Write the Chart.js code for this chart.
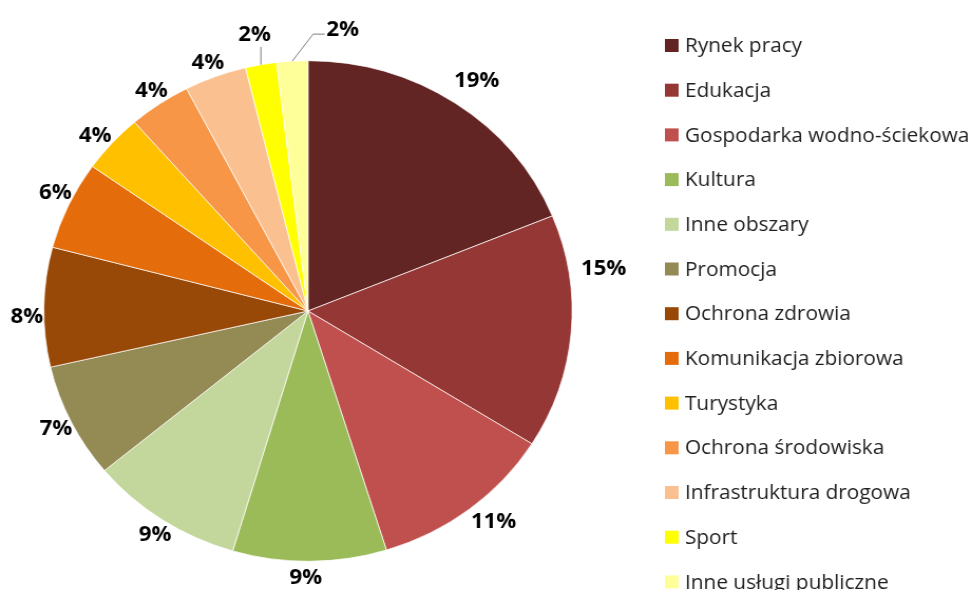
<!DOCTYPE html>
<html>
<head>
<meta charset="utf-8">
<script src="https://cdn.jsdelivr.net/npm/chart.js@4/dist/chart.umd.min.js"></script>
<style>
  body { margin: 0; background: #fff; }
  /* oryginał jest lekko rozciągnięty w poziomie */
  #wrap { width: 920px; height: 590px; transform: scaleX(1.0554); transform-origin: 0 0; }
</style>
</head>
<body>
<div id="wrap"><canvas id="pieChart" width="920" height="590"></canvas></div>
<script>
// Dane
const kategorie = [
    "Rynek pracy", "Edukacja", "Gospodarka wodno-ściekowa", "Kultura", "Inne obszary",
    "Promocja", "Ochrona zdrowia", "Komunikacja zbiorowa", "Turystyka",
    "Ochrona środowiska", "Infrastruktura drogowa", "Sport", "Inne usługi publiczne"
];
const udzialy = [18.8, 15.1, 11.3, 9.4, 9.4, 7.4, 7.7, 5.7, 3.8, 3.8, 3.8, 1.9, 1.9];
const kolory = [
    "#632523", "#953735", "#C0504D", "#9BBB59", "#C3D69B", "#948A54", "#984807",
    "#E46C0A", "#FFC000", "#F79646", "#FAC090", "#FFFF00", "#FFFF99"
];

// przesunięcie etykiet: [kąt w stopniach, odległość od krawędzi]
const przesuniecia = [
    [1.0, 29.5], [-13.4, 33], [-2.2, 24.3], [0.8, 16.5], [-0.6, 16.3], [0, 16.1],
    [-2.3, 16.2], [1.2, 16.5], [-1.1, 16.9], [0.2, 15], [-0.4, 15], [-0.1, 30.5], [10.1, 32.5]
];

// Etykiety procentowe z liniami odniesienia
const etykietyPlugin = {
    id: 'etykiety',
    afterDatasetsDraw(chart) {
        const ctx = chart.ctx;
        const meta = chart.getDatasetMeta(0);
        ctx.save();
        ctx.font = 'bold 21px "Open Sans"';
        ctx.fillStyle = '#000';
        ctx.textAlign = 'center';
        ctx.textBaseline = 'middle';
        meta.data.forEach((arc, i) => {
            const p = arc.getProps(['x', 'y', 'startAngle', 'endAngle', 'outerRadius'], true);
            const srodek = (p.startAngle + p.endAngle) / 2;
            const kat = srodek + przesuniecia[i][0] * Math.PI / 180;
            const d = p.outerRadius + przesuniecia[i][1];
            const lx = p.x + Math.cos(kat) * d;
            const ly = p.y + Math.sin(kat) * d;
            const ax = p.x + Math.cos(srodek) * p.outerRadius;
            const ay = p.y + Math.sin(srodek) * p.outerRadius;

            ctx.strokeStyle = '#7f7f7f';
            ctx.lineWidth = 1;
            if (i === 11) {
                ctx.beginPath();
                ctx.moveTo(ax, ay);
                ctx.lineTo(ax, ly + 12);
                ctx.stroke();
            } else if (i === 12) {
                ctx.beginPath();
                ctx.moveTo(ax, ay);
                ctx.lineTo(lx - 28, ly + 4);
                ctx.lineTo(lx - 17, ly + 4);
                ctx.stroke();
            }
            ctx.fillText(Math.round(udzialy[i]) + '%', lx, ly);
        });
        ctx.restore();
    }
};

// Legenda po prawej stronie
const legendaPlugin = {
    id: 'legenda',
    afterDraw(chart) {
        const ctx = chart.ctx;
        ctx.save();
        ctx.font = '19.7px "Open Sans"';
        ctx.textAlign = 'left';
        ctx.textBaseline = 'middle';
        kategorie.forEach((k, i) => {
            const cy = 45.5 + i * 44.7;
            ctx.fillStyle = kolory[i];
            ctx.fillRect(630, cy - 6.5, 13, 13);
            ctx.fillStyle = '#1f1f1f';
            ctx.fillText(k, 649, cy + 1);
        });
        ctx.restore();
    }
};

function initChart() {
    var ctx = document.getElementById('pieChart').getContext('2d');
    new Chart(ctx, {
        type: 'pie',
        data: {
            labels: kategorie,
            datasets: [{
                data: udzialy,
                backgroundColor: kolory,
                borderColor: 'rgba(255,255,255,0.7)',
                borderWidth: 1
            }]
        },
        options: {
            responsive: false,
            animation: false,
            layout: { padding: { top: 60, bottom: 28, left: 41, right: 377.4 } },
            plugins: {
                legend: { display: false },
                tooltip: { enabled: false }
            }
        },
        plugins: [etykietyPlugin, legendaPlugin]
    });
}

document.addEventListener('DOMContentLoaded', function () {
    initChart();
});
</script>
</body>
</html>
